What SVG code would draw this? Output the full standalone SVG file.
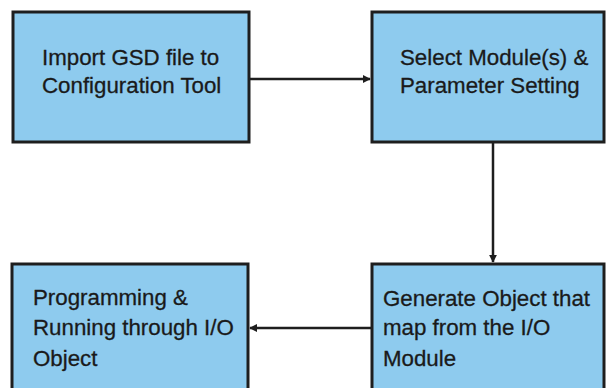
<svg xmlns="http://www.w3.org/2000/svg" width="606" height="388" viewBox="0 0 606 388">
<defs>
<style>
.box{fill:#8ECBEE;stroke:#1e1e1e;stroke-width:3}
.t{font-family:"Liberation Sans",Arial,sans-serif;font-size:22.3px;fill:#1a1a1a;stroke:#1a1a1a;stroke-width:0.3}
.c{stroke:#1e1e1e;stroke-width:2.5;fill:none}
</style>
<marker id="ah" viewBox="0 0 10 10" refX="9" refY="5" markerWidth="3.2" markerHeight="3.2" orient="auto" markerUnits="strokeWidth">
<path d="M0,0 L10,5 L0,10 z" fill="#1e1e1e"/>
</marker>
</defs>
<rect width="606" height="388" fill="#ffffff"/>
<g id="n1">
<rect class="box" x="13" y="12" width="236" height="130"/>
<text class="t" x="42" y="65">Import GSD file to</text>
<text class="t" x="42" y="93">Configuration Tool</text>
</g>
<g id="n2">
<rect class="box" x="372" y="12" width="232" height="130"/>
<text class="t" x="400" y="65">Select Module(s) &amp;</text>
<text class="t" x="400" y="93">Parameter Setting</text>
</g>
<g id="n3">
<rect class="box" x="12" y="264" width="236" height="140"/>
<text class="t" x="33" y="305">Programming &amp;</text>
<text class="t" x="33" y="335">Running through I/O</text>
<text class="t" x="33" y="366">Object</text>
</g>
<g id="n4">
<rect class="box" x="372" y="264" width="232" height="140"/>
<text class="t" x="383" y="306">Generate Object that</text>
<text class="t" x="383" y="335">map from the I/O</text>
<text class="t" x="383" y="366">Module</text>
</g>
<g id="connectors">
<line class="c" x1="250" y1="79" x2="370" y2="79" marker-end="url(#ah)"/>
<line class="c" x1="493" y1="143" x2="493" y2="262" marker-end="url(#ah)"/>
<line class="c" x1="371" y1="328" x2="250" y2="328" marker-end="url(#ah)"/>
</g>
</svg>
